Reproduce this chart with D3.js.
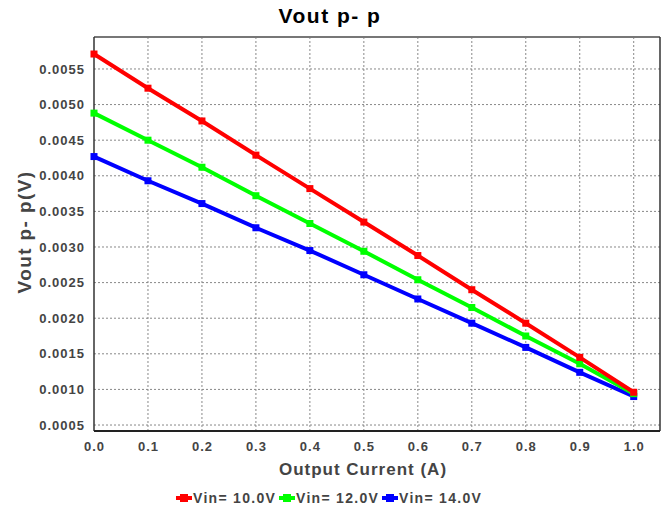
<!DOCTYPE html>
<html>
<head>
<meta charset="utf-8">
<script src="https://cdn.jsdelivr.net/npm/d3@7"></script>
<style>
  body { margin: 0; background: #fff; }
  svg { display: block; font-family: "Liberation Sans", Arial, sans-serif; font-weight: bold; }
</style>
</head>
<body>
<div id="chart"></div>
<script>
// --- Data ---
const currents = [0.0, 0.1, 0.2, 0.3, 0.4, 0.5, 0.6, 0.7, 0.8, 0.9, 1.0];
const vin10 = [0.00571, 0.00523, 0.00477, 0.00429, 0.00382, 0.00335, 0.00288, 0.00240, 0.00193, 0.00145, 0.00096];
const vin12 = [0.00488, 0.00450, 0.00412, 0.00372, 0.00333, 0.00294, 0.00254, 0.00215, 0.00175, 0.00136, 0.00094];
const vin14 = [0.00427, 0.00393, 0.00361, 0.00327, 0.00295, 0.00261, 0.00227, 0.00193, 0.00159, 0.00124, 0.00090];
const seriesNames = ["Vin= 10.0V", "Vin= 12.0V", "Vin= 14.0V"];
const seriesColors = ["#ff0000", "#00ff00", "#0000ff"];
const xTicks = [0.0, 0.1, 0.2, 0.3, 0.4, 0.5, 0.6, 0.7, 0.8, 0.9, 1.0];
const yTicks = [0.0005, 0.0010, 0.0015, 0.0020, 0.0025, 0.0030, 0.0035, 0.0040, 0.0045, 0.0050, 0.0055];

// --- Layout ---
const WIDTH = 668;
const HEIGHT = 513;
const PLOT = { left: 94, right: 660, top: 37, bottom: 431 };
const FONT = "'Liberation Sans', Arial, sans-serif";

const svg = d3.select("#chart").append("svg")
  .attr("width", WIDTH)
  .attr("height", HEIGHT);

const x = d3.scaleLinear().domain([0, 1.0487]).range([PLOT.left, PLOT.right]);
const y = d3.scaleLinear().domain([0.000416, 0.005949]).range([PLOT.bottom, PLOT.top]);

// grid
const grid = svg.append("g").attr("class", "grid");
grid.selectAll("line.vx").data(xTicks.slice(1)).join("line")
  .attr("x1", d => x(d)).attr("x2", d => x(d))
  .attr("y1", PLOT.top).attr("y2", PLOT.bottom)
  .attr("stroke", "#888").attr("stroke-dasharray", "2,2");
grid.selectAll("line.hy").data(yTicks).join("line")
  .attr("x1", PLOT.left).attr("x2", PLOT.right)
  .attr("y1", d => y(d)).attr("y2", d => y(d))
  .attr("stroke", "#888").attr("stroke-dasharray", "2,2");

// tick labels
function styleTicks(sel) {
  sel.attr("fill", "#444").style("font-size", "13px").style("letter-spacing", "1px")
    .style("font-family", FONT).style("font-weight", "bold");
}
const xAxis = d3.axisBottom(x).tickValues(xTicks).tickFormat(d3.format(".1f")).tickSize(0).tickPadding(11);
svg.append("g")
  .attr("transform", `translate(0,${PLOT.bottom})`)
  .call(xAxis)
  .call(g => g.select(".domain").remove())
  .selectAll("text").call(styleTicks);

const yAxis = d3.axisLeft(y).tickValues(yTicks).tickFormat(d3.format(".4f")).tickSize(0).tickPadding(9);
svg.append("g")
  .attr("transform", `translate(${PLOT.left},0)`)
  .call(yAxis)
  .call(g => g.select(".domain").remove())
  .selectAll("text").call(styleTicks);

// frame
svg.append("line").attr("x1", PLOT.left).attr("x2", PLOT.right).attr("y1", PLOT.top).attr("y2", PLOT.top)
  .attr("stroke", "#777").attr("stroke-width", 2);
svg.append("line").attr("x1", PLOT.right).attr("x2", PLOT.right).attr("y1", PLOT.top).attr("y2", PLOT.bottom)
  .attr("stroke", "#333").attr("stroke-width", 1.5);
svg.append("line").attr("x1", PLOT.left).attr("x2", PLOT.left).attr("y1", PLOT.top).attr("y2", PLOT.bottom)
  .attr("stroke", "#333").attr("stroke-width", 1.5);
svg.append("line").attr("x1", PLOT.left).attr("x2", PLOT.right).attr("y1", PLOT.bottom).attr("y2", PLOT.bottom)
  .attr("stroke", "#222").attr("stroke-width", 2);

// series (blue under, red on top)
const allSeries = [vin10, vin12, vin14];
const line = d3.line().x((d, i) => x(currents[i])).y(d => y(d));
const order = [2, 1, 0];
order.forEach(s => {
  const g = svg.append("g");
  g.append("path").datum(allSeries[s])
    .attr("fill", "none").attr("stroke", seriesColors[s]).attr("stroke-width", 4)
    .attr("d", line);
  g.selectAll("rect").data(allSeries[s]).join("rect")
    .attr("x", (d, i) => x(currents[i]) - 3.5).attr("y", d => y(d) - 3.5)
    .attr("width", 7).attr("height", 7)
    .attr("fill", seriesColors[s]);
});

// titles
svg.append("text").attr("x", 330).attr("y", 23).attr("text-anchor", "middle")
  .style("font-size", "21px").style("letter-spacing", "1.5px").attr("fill", "#000")
  .text("Vout p- p");
svg.append("text").attr("x", 363).attr("y", 475).attr("text-anchor", "middle")
  .style("font-size", "17px").style("letter-spacing", "1px").attr("fill", "#444")
  .text("Output Current (A)");
svg.append("text").attr("transform", "translate(31,232) rotate(-90)").attr("text-anchor", "middle")
  .style("font-size", "19px").style("letter-spacing", "1.4px").attr("fill", "#444")
  .text("Vout p- p(V)");

// legend
const legend = svg.append("g").attr("transform", "translate(176,503)");
const ITEM_STEP = 103;
seriesNames.forEach((name, i) => {
  const item = legend.append("g").attr("transform", `translate(${i * ITEM_STEP},0)`);
  item.append("line").attr("x1", 0).attr("x2", 16).attr("y1", -5).attr("y2", -5)
    .attr("stroke", seriesColors[i]).attr("stroke-width", 4);
  item.append("rect").attr("x", 4).attr("y", -9).attr("width", 8).attr("height", 8)
    .attr("fill", seriesColors[i]);
  item.append("text").attr("x", 17).attr("y", 0)
    .style("font-size", "14px").style("letter-spacing", "1.3px").attr("fill", "#444")
    .text(name);
});
</script>
</body>
</html>
